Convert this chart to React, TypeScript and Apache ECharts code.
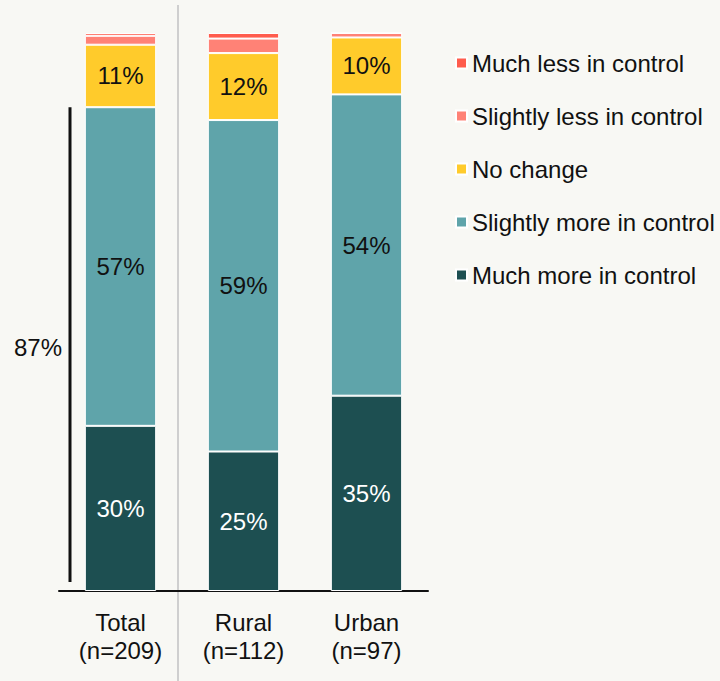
import React, { useEffect, useRef } from "react";
import * as echarts from "echarts";

const categories = ["Total\n(n=209)", "Rural\n(n=112)", "Urban\n(n=97)"];
const seriesNames = [
  "Much more in control",
  "Slightly more in control",
  "No change",
  "Slightly less in control",
  "Much less in control",
];
const muchMore = [29.6, 25, 35];
const slightlyMore = [57.1, 59.4, 54];
const noChange = [11.2, 12, 10.2];
const slightlyLess = [1.6, 2.6, 0.8];
const muchLess = [0.5, 1.0, 0];
const seriesValues = [muchMore, slightlyMore, noChange, slightlyLess, muchLess];
const colors = ["#1D4F51", "#5FA4AA", "#FFCB2B", "#FF8276", "#FF5C4D"];
const labelColors = ["#FFFFFF", "#111111", "#111111", "#111111", "#111111"];
const showLabel = [true, true, true, false, false];
const bracketValue = 86.7;
const bracketLabel = "87%";

const FONT = "'Liberation Sans', Arial, Helvetica, sans-serif";
const FS = 24;

export default function App() {
  const ref = useRef<HTMLDivElement>(null);
  useEffect(() => {
    if (!ref.current) return;
    const chart = echarts.init(ref.current, null, { renderer: "svg" });
    chart.setOption({
      animation: false,
      backgroundColor: "#F8F8F4",
      textStyle: { fontFamily: FONT },
      grid: { left: 59, right: 292, top: 33, bottom: 90, containLabel: false },
      legend: {
        orient: "vertical",
        left: 450,
        top: 44,
        itemWidth: 11,
        itemHeight: 11,
        itemGap: 25,
        icon: "rect",
        data: [...seriesNames].reverse(),
        textStyle: { fontSize: FS, color: "#111", lineHeight: 28, fontFamily: FONT },
      },
      xAxis: {
        type: "category",
        data: categories,
        axisLine: { show: true, lineStyle: { color: "#111", width: 2 } },
        axisTick: { show: false },
        axisLabel: {
          fontSize: FS,
          color: "#111",
          lineHeight: 28,
          margin: 17,
          fontFamily: FONT,
        },
      },
      yAxis: {
        type: "value",
        min: 0,
        max: 100,
        show: false,
        splitLine: { show: false },
      },
      series: seriesNames.map((name, i) => ({
        name,
        type: "bar",
        stack: "all",
        barWidth: "58%",
        data: seriesValues[i],
        itemStyle: { color: colors[i], borderColor: "#FFFFFF", borderWidth: 1 },
        label: {
          show: showLabel[i],
          position: "inside",
          color: labelColors[i],
          fontSize: FS,
          fontFamily: FONT,
          formatter: (p: any) => `${Math.round(p.value)}%`,
        },
      })),
    });
    const yTop = chart.convertToPixel({ yAxisIndex: 0 }, bracketValue) as number;
    const yBase = chart.convertToPixel({ yAxisIndex: 0 }, 0) as number;
    const yBottom = yBase - 9;
    const sepX = 178;
    chart.setOption({
      graphic: [
        {
          type: "line",
          shape: { x1: sepX, y1: 5, x2: sepX, y2: 681 },
          style: { stroke: "#CFCFCF", lineWidth: 2 },
          z: 0,
        },
        {
          type: "line",
          shape: { x1: 70, y1: yTop, x2: 70, y2: yBottom },
          style: { stroke: "#111", lineWidth: 3 },
        },
        {
          type: "text",
          x: 62,
          y: (yTop + yBottom) / 2 + 3,
          style: {
            text: bracketLabel,
            fontSize: FS,
            fontFamily: FONT,
            fill: "#111",
            align: "right",
            verticalAlign: "middle",
          },
        },
      ],
    });
    return () => chart.dispose();
  }, []);
  return (
    <div
      ref={ref}
      style={{ position: "fixed", left: 0, top: 0, width: 720, height: 681 }}
    />
  );
}
